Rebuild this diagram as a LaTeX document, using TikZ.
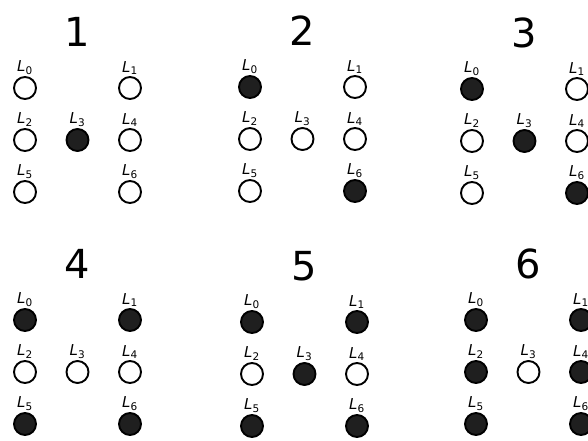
\documentclass[tikz,border=0pt]{standalone}
\usepackage{fontspec}
\setmainfont{DejaVu Sans}
\begin{document}
\begin{tikzpicture}[x=1pt,y=-1pt,
  led/.style={circle, draw=black, line width=1.9pt, minimum size=22pt, inner sep=0pt},
  lab/.style={font=\fontsize{15}{15}\selectfont, anchor=south, inner sep=0pt},
  num/.style={font=\fontsize{40}{40}\selectfont, inner sep=0pt}]
\useasboundingbox (0,0) rectangle (588,440);
\foreach \p/\xo/\yo/\st in {1/25/88/{0,0,0,1,0,0,0},
                           2/250/87/{1,0,0,0,0,0,1},
                           3/472/89/{1,0,0,1,0,0,1},
                           4/25/320/{1,1,0,0,0,1,1},
                           5/252/322/{1,1,0,1,0,1,1},
                           6/476/320/{1,1,1,0,1,1,1}} {
  \node[num] (n\p) at (\xo+52.5,\yo-56) {\p};
  \foreach \s [count=\k from 0] in \st {
    \pgfmathsetmacro\cx{{0,2,0,1,2,0,2}[\k]}
    \pgfmathsetmacro\cy{{0,0,1,1,1,2,2}[\k]}
    \ifnum\s=1 \def\fc{black!88}\else\def\fc{white}\fi
    \node[led, fill=\fc] (d\p-\k) at (\xo+52.5*\cx,\yo+52*\cy) {};
    \node[lab] (t\p-\k) at (\xo+52.5*\cx,\yo+52*\cy-13) {\textit{L}\textsubscript{\k}};
  }
}
\end{tikzpicture}
\end{document}
